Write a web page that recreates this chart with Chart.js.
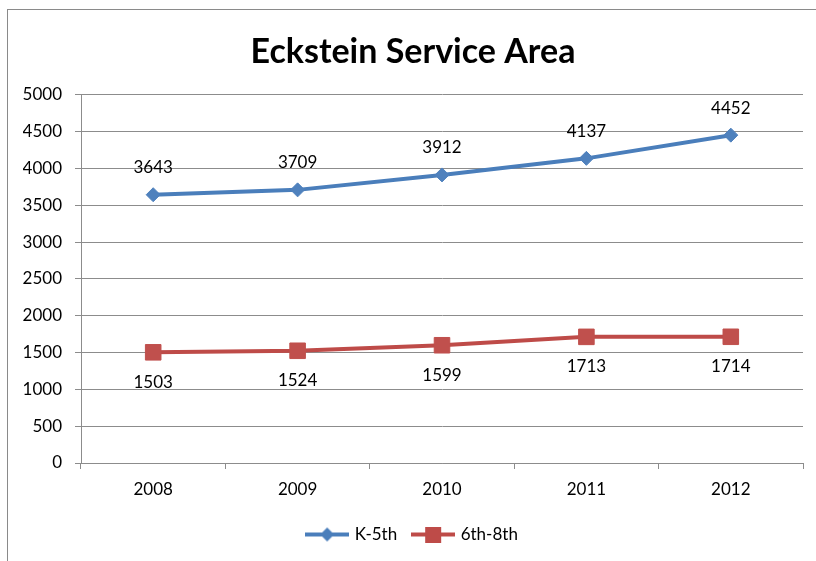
<!DOCTYPE html>
<html>
<head>
<meta charset="utf-8">
<script src="https://cdn.jsdelivr.net/npm/chart.js@4/dist/chart.umd.min.js"></script>
<style>
    html, body { margin: 0; padding: 0; background: #fff; overflow: hidden; }
    #wrap { position: relative; width: 816px; height: 561px; }
    #frame { position: absolute; left: 7px; top: 9px; width: 900px; height: 600px; border: 1px solid #8a8a8a; }
    #chart { position: absolute; left: 0; top: 0; }
</style>
</head>
<body>
<div id="wrap">
    <div id="frame"></div>
    <canvas id="chart" width="816" height="561"></canvas>
</div>
<script>
const years = ['2008', '2009', '2010', '2011', '2012'];
const k5 = [3643, 3709, 3912, 4137, 4452];
const grades68 = [1503, 1524, 1599, 1713, 1714];
const seriesNames = ['K-5th', '6th-8th'];

const FONT = 'Lato, "Open Sans", sans-serif';
const GRID = '#8c8c8c';

// legend symbol: short line with the marker in the middle
function legendSymbol(color, style) {
    const c = document.createElement('canvas');
    c.width = 44;
    c.height = 16;
    const g = c.getContext('2d');
    g.strokeStyle = color;
    g.lineWidth = 4;
    g.beginPath();
    g.moveTo(0, 8);
    g.lineTo(44, 8);
    g.stroke();
    g.fillStyle = color;
    if (style === 'diamond') {
        g.beginPath();
        g.moveTo(22, 1); g.lineTo(29, 8); g.lineTo(22, 15); g.lineTo(15, 8);
        g.closePath();
        g.fill();
    } else {
        g.fillRect(14, 0, 16, 16);
    }
    return c;
}

const pointLabels = {
    id: 'pointLabels',
    afterDatasetsDraw(chart, args, opts) {
        const ctx = chart.ctx;
        ctx.save();
        ctx.font = '17px ' + FONT;
        ctx.fillStyle = '#000';
        ctx.textAlign = 'center';
        ctx.textBaseline = 'middle';
        chart.data.datasets.forEach((ds, i) => {
            const meta = chart.getDatasetMeta(i);
            meta.data.forEach((pt, j) => {
                ctx.fillText(String(ds.data[j]), pt.x, pt.y + opts.offsets[i]);
            });
        });
        ctx.restore();
    }
};

const ctx = document.getElementById('chart').getContext('2d');
new Chart(ctx, {
    type: 'line',
    data: {
        labels: years,
        datasets: [
            {
                label: seriesNames[0],
                data: k5,
                borderColor: '#4a7ebb',
                backgroundColor: '#4f81bd',
                pointBackgroundColor: '#4f81bd',
                pointBorderColor: '#4f81bd',
                borderWidth: 4,
                pointStyle: 'rectRot',
                pointRadius: 7,
                pointBorderWidth: 1,
                tension: 0
            },
            {
                label: seriesNames[1],
                data: grades68,
                borderColor: '#be4b48',
                backgroundColor: '#c0504d',
                pointBackgroundColor: '#c0504d',
                pointBorderColor: '#c0504d',
                borderWidth: 4,
                pointStyle: 'rect',
                pointRadius: 11,
                pointBorderWidth: 1,
                tension: 0
            }
        ]
    },
    options: {
        responsive: false,
        animation: false,
        layout: { padding: { top: 22, left: 23, right: 13, bottom: 8 } },
        scales: {
            x: {
                offset: true,
                grid: { offset: true, drawOnChartArea: false, drawTicks: true, tickLength: 6, color: GRID },
                border: { display: true, color: GRID },
                ticks: { color: '#000', font: { family: FONT, size: 17 }, padding: 10 },
                afterFit: (scale) => { scale.height = 46; }
            },
            y: {
                min: 0,
                max: 5000,
                ticks: {
                    stepSize: 500,
                    color: '#000',
                    font: { family: FONT, size: 17 },
                    padding: 13,
                    callback: (v) => String(v)
                },
                grid: { color: GRID, tickLength: 6 },
                border: { display: true, color: GRID },
                afterFit: (scale) => { scale.width = 58; }
            }
        },
        plugins: {
            title: {
                display: true,
                text: 'Eckstein Service Area',
                color: '#000',
                font: { family: FONT, size: 34, weight: 'bold' },
                padding: { top: 10, bottom: 22 }
            },
            legend: {
                position: 'bottom',
                labels: {
                    usePointStyle: true,
                    pointStyleWidth: 38,
                    padding: 17,
                    color: '#000',
                    font: { family: FONT, size: 17 },
                    generateLabels: (chart) => chart.data.datasets.map((ds, i) => ({
                        text: ds.label,
                        pointStyle: legendSymbol(ds.borderColor, i === 0 ? 'diamond' : 'square'),
                        fillStyle: ds.borderColor,
                        strokeStyle: ds.borderColor,
                        lineWidth: 0,
                        fontColor: '#000',
                        hidden: false,
                        datasetIndex: i
                    }))
                }
            },
            tooltip: { enabled: false },
            pointLabels: { offsets: [-27, 30] }
        }
    },
    plugins: [pointLabels]
});
</script>
</body>
</html>
